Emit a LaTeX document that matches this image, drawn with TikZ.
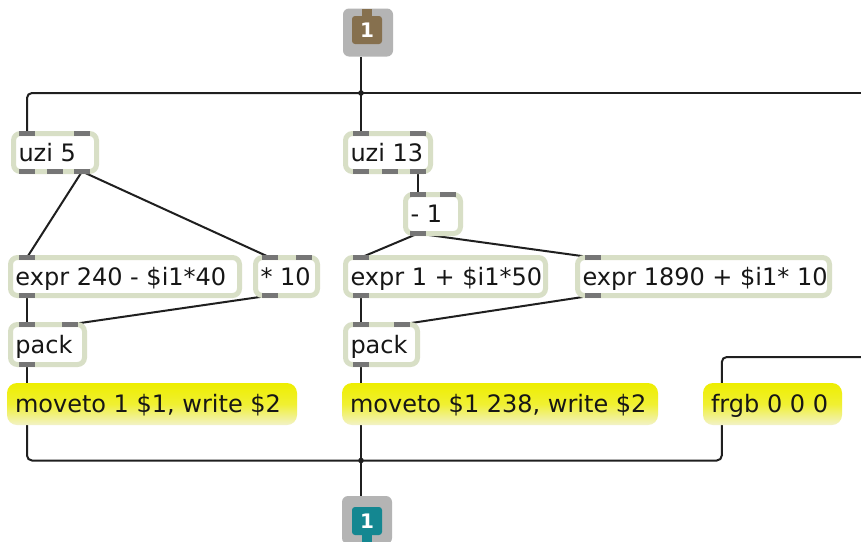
\documentclass[tikz,border=0pt]{standalone}
\usepackage{fontspec}
\setmainfont{DejaVu Sans}
\usetikzlibrary{calc,backgrounds}

\definecolor{frame}{RGB}{216,223,198}
\definecolor{portgray}{RGB}{118,118,118}
\definecolor{iogray}{RGB}{180,180,180}
\definecolor{inbrown}{RGB}{134,112,78}
\definecolor{outteal}{RGB}{20,135,145}
\definecolor{msgtop}{RGB}{238,238,0}
\definecolor{msgmid}{RGB}{240,240,50}
\definecolor{msgbot}{RGB}{242,242,200}
\definecolor{ink}{RGB}{22,22,22}

\tikzset{
  objbox/.style={draw=frame, line width=5pt, fill=white, rounded corners=7pt,
    inner sep=0pt, text height=22pt, text depth=5pt, text=ink,
    font=\fontsize{24}{28}\selectfont},
  msgbox/.style={rounded corners=10pt, top color=msgtop, bottom color=msgbot,
    middle color=msgmid, inner sep=0pt, text height=22pt, text depth=5pt,
    text=ink, font=\fontsize{24}{28}\selectfont},
  port/.style={fill=portgray, inner sep=0pt, minimum width=16pt, minimum height=4.5pt},
  cord/.style={draw=black!88, line width=2pt, rounded corners=5pt},
  iobox/.style={fill=iogray, rounded corners=6pt, inner sep=0pt,
    minimum width=50pt, minimum height=48pt},
  iobody/.style={rounded corners=3pt, inner sep=0pt, minimum width=30pt,
    minimum height=28pt, text=white, font=\fontsize{20}{24}\selectfont\bfseries},
  iotab/.style={inner sep=0pt, minimum width=10pt, minimum height=9pt},
}

% object box: name, left, top, right, bottom (outer edges), text
\newcommand\pobj[6]{%
  \node[objbox, minimum height={#5-#3-5}] (#1) at ({(#2+#4)/2},{(#3+#5)/2})
    {\makebox[\dimexpr #4pt-#2pt-5pt\relax][l]{\hspace{5pt}#6}};}
% message box: name, left, top, right, bottom, text
\newcommand\pmsg[6]{%
  \node[msgbox, minimum height={#5-#3}] (#1) at ({(#2+#4)/2},{(#3+#5)/2})
    {\makebox[\dimexpr #4pt-#2pt\relax][l]{\hspace{8pt}#6}};}
% inlet / outlet tab: name, x, y
\newcommand\pport[3]{\node[port] (#1) at (#2,#3) {};}

\begin{document}
\begin{tikzpicture}[x=1pt, y=-1pt]
\useasboundingbox (0,0) rectangle (861,541);

% patcher inlet
\node[iobox] (inbox) at (368,32.5) {};
\node[iotab, fill=inbrown] (intab) at (367,13.5) {};
\node[iobody, fill=inbrown] (inbody) at (367,30) {1};

% patcher outlet
\node[iobox] (outbox) at (367,520) {};
\node[iotab, fill=outteal] (outtab) at (367,538) {};
\node[iobody, fill=outteal] (outbody) at (367,521) {1};

% objects
\pobj{uzi5}{11}{131}{99}{174}{uzi 5}
\pobj{uzi13}{343}{131}{433}{174}{uzi 13}
\pobj{minus1}{403}{192}{463}{236}{- 1}
\pobj{expr240}{8}{255}{242}{298}{expr 240 - \$i1*40}
\pobj{times10}{253}{255}{320}{298}{* 10}
\pobj{packA}{8}{322}{87}{367}{pack}
\pobj{expr1}{343}{255}{548}{298}{expr 1 + \$i1*50}
\pobj{expr1890}{575}{255}{832}{298}{expr 1890 + \$i1* 10}
\pobj{packB}{343}{322}{420}{367}{pack}

% messages
\pmsg{msgA}{7}{383}{297}{425}{moveto 1 \$1, write \$2}
\pmsg{msgB}{342}{383}{658}{425}{moveto \$1 238, write \$2}
\pmsg{msgC}{703}{383}{842}{425}{frgb 0 0 0}

% inlets and outlets of the objects
\pport{uzi5-i1}{27}{133.5}\pport{uzi5-i2}{82}{133.5}
\pport{uzi5-o1}{27}{171.5}\pport{uzi5-o2}{54.5}{171.5}\pport{uzi5-o3}{82}{171.5}
\pport{uzi13-i1}{361}{133.5}\pport{uzi13-i2}{418}{133.5}
\pport{uzi13-o1}{361}{171.5}\pport{uzi13-o2}{389.5}{171.5}\pport{uzi13-o3}{418}{171.5}
\pport{minus1-i1}{418}{194.5}\pport{minus1-i2}{447.5}{194.5}
\pport{minus1-o1}{418}{233.5}
\pport{expr240-i1}{27}{257.5}\pport{expr240-o1}{27}{295.5}
\pport{times10-i1}{270}{257.5}\pport{times10-i2}{303.5}{257.5}
\pport{times10-o1}{270}{295.5}
\pport{packA-i1}{27}{324.5}\pport{packA-i2}{70}{324.5}
\pport{packA-o1}{27}{364.5}
\pport{expr1-i1}{361}{257.5}\pport{expr1-o1}{361}{295.5}
\pport{expr1890-i1}{592.5}{257.5}\pport{expr1890-o1}{592.5}{295.5}
\pport{packB-i1}{361}{324.5}\pport{packB-i2}{401.5}{324.5}
\pport{packB-o1}{361}{364.5}

% junctions and cords leaving the view
\coordinate (j1) at (361,93);
\coordinate (j2) at (361,460.5);
\coordinate (offR) at (880,93);
\coordinate (offRB) at (880,357);

\begin{pgfonlayer}{background}
  \fill[white] (0,0) rectangle (861,541);
  \draw[cord] (inbox.south -| uzi13-i1) -- (uzi13-i1.center);
  \draw[cord] (j1) -| (uzi5-i1.center);
  \draw[cord] (j1) -- (offR);
  \draw[cord] (uzi5-o3.center) -- (expr240-i1.center);
  \draw[cord] (uzi5-o3.center) -- (times10-i1.center);
  \draw[cord] (uzi13-o3.center) -- (minus1-i1.center);
  \draw[cord] (minus1-o1.center) -- (expr1-i1.center);
  \draw[cord] (minus1-o1.center) -- (expr1890-i1.center);
  \draw[cord] (expr240-o1.center) -- (packA-i1.center);
  \draw[cord] (times10-o1.center) -- (packA-i2.center);
  \draw[cord] (expr1-o1.center) -- (packB-i1.center);
  \draw[cord] (expr1890-o1.center) -- (packB-i2.center);
  \draw[cord] (packA-o1.center) -- (packA-o1 |- msgA.center);
  \draw[cord] (packB-o1.center) -- (packB-o1 |- msgB.center);
  \draw[cord] (packA-o1 |- msgA.center) |- (j2);
  \draw[cord] (packB-o1 |- msgB.center) -- (outbox.north -| packB-o1);
  \draw[cord] ($(msgC.west)+(19,0)$) |- (j2);
  \draw[cord] (offRB) -| ($(msgC.west)+(19,0)$);
\end{pgfonlayer}

\fill[black!88] (j1) circle (2.8);
\fill[black!88] (j2) circle (2.8);
\end{tikzpicture}
\end{document}
